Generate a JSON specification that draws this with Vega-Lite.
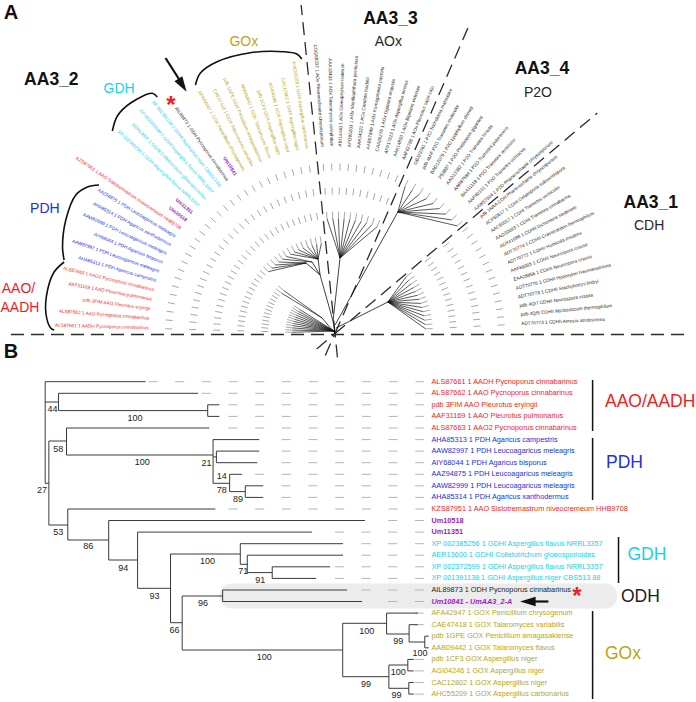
{
"$schema":"https://vega.github.io/schema/vega-lite/v6.json",
"width":696,"height":702,
"autosize":{"type":"fit","contains":"padding"},
"padding":0,
"background":"white",
"config":{"view":{"stroke":null},"font":"Liberation Sans"},
"datasets":{
"leavesB":[
{"name":"ALS87661 1 AADH Pycnoporus cinnabarinus","grp":"AAO","x":431.7,"y":381.7,"d":148,"e":424},
{"name":"ALS87662 1 AAO Pycnoporus cinnabarinus","grp":"AAO","x":431.7,"y":393.3,"d":201.4,"e":424},
{"name":"pdb 3FIM AAO Pleurotus eryingii","grp":"AAO","x":431.7,"y":404.8,"d":228.1,"e":424},
{"name":"AAF31169 1 AAO Pleurotus pulmonarius","grp":"AAO","x":431.7,"y":416.4,"d":228.1,"e":424},
{"name":"ALS87663 1 AAO2 Pycnoporus cinnabarinus","grp":"AAO","x":431.7,"y":428.0,"d":228.1,"e":424},
{"name":"AHA85313 1 PDH Agaricus campestris","grp":"PDH","x":431.7,"y":439.6,"d":281.5,"e":424},
{"name":"AAW82997 1 PDH Leucoagaricus meleagris","grp":"PDH","x":431.7,"y":451.1,"d":281.5,"e":424},
{"name":"AIY68044 1 PDH Agaricus bisporus","grp":"PDH","x":431.7,"y":462.7,"d":281.5,"e":424},
{"name":"AAZ94875 1 PDH Leucoagaricus meleagris","grp":"PDH","x":431.7,"y":474.3,"d":254.8,"e":424},
{"name":"AAW82999 1 PDH Leucoagaricus meleagris","grp":"PDH","x":431.7,"y":485.8,"d":281.5,"e":424},
{"name":"AHA85314 1 PDH Agaricus xanthodermus","grp":"PDH","x":431.7,"y":497.4,"d":281.5,"e":424},
{"name":"KZS87951 1 AAO Sistotremastrum niveocremeum HHB9708","grp":"AAO","x":431.7,"y":509.0,"d":228.1,"e":424},
{"name":"Um10518","grp":"Um","x":431.7,"y":520.5,"d":388.3,"e":424},
{"name":"Um11351","grp":"Um","x":431.7,"y":532.1,"d":334.9,"e":424},
{"name":"XP 002385256 1 GDHI Aspergillus flavus NRRL3357","grp":"GDH","x":431.7,"y":543.7,"d":361.6,"e":424},
{"name":"AER13600 1 GDHI Colletotrichum gloeosporioides","grp":"GDH","x":431.7,"y":555.2,"d":361.6,"e":424},
{"name":"XP 002372599 1 GDHI Aspergillus flavus NRRL3357","grp":"GDH","x":431.7,"y":566.8,"d":334.9,"e":424},
{"name":"XP 001391138 1 GDHI Aspergillus niger CBS513 88","grp":"GDH","x":431.7,"y":578.4,"d":334.9,"e":424},
{"name":"AIL89873 1 ODH Pycnoporus cinnabarinus","grp":"ODH","x":431.7,"y":590.0,"d":361.6,"e":424},
{"name":"Um10841 - UmAA3_2-A","grp":"Um","x":431.7,"y":601.5,"d":388.3,"e":424},
{"name":"AFA42947 1 GOX Penicillium chrysogenum","grp":"GOX","x":431.7,"y":613.1,"d":415,"e":424},
{"name":"CAE47418 1 GOX Talaromyces variabilis","grp":"GOX","x":431.7,"y":624.7,"d":415,"e":424},
{"name":"pdb 1GPE GOX Penicillium amagasakiense","grp":"GOX","x":431.7,"y":636.2,"d":424,"e":424},
{"name":"AAB09442 1 GOX Talaromyces flavus","grp":"GOX","x":431.7,"y":647.8,"d":424,"e":424},
{"name":"pdb 1CF3 GOX Aspergillus niger","grp":"GOX","x":431.7,"y":659.4,"d":415,"e":424},
{"name":"AGI04246 1 GOX Aspergillus niger","grp":"GOX","x":431.7,"y":670.9,"d":415,"e":424},
{"name":"CAC12802 1 GOX Aspergillus niger","grp":"GOX","x":431.7,"y":682.5,"d":415,"e":424},
{"name":"AHC55209 1 GOX Aspergillus carbonarius","grp":"GOX","x":431.7,"y":694.1,"d":415,"e":424}
],
"treeB":[
{"x":44.3,"y":381.7,"x2":145,"y2":381.7},{"x":57.7,"y":393.3,"x2":197.7,"y2":393.3},
{"x":207.3,"y":404.8,"x2":219,"y2":404.8},{"x":207.3,"y":416.4,"x2":219,"y2":416.4},
{"x":65.7,"y":428.0,"x2":209,"y2":428.0},{"x":212.7,"y":439.6,"x2":259,"y2":439.6},
{"x":216,"y":451.1,"x2":259,"y2":451.1},{"x":216,"y":462.7,"x2":257,"y2":462.7},
{"x":229.3,"y":474.3,"x2":241.7,"y2":474.3},{"x":245,"y":485.8,"x2":263,"y2":485.8},
{"x":245,"y":497.4,"x2":263,"y2":497.4},{"x":67,"y":509.0,"x2":215,"y2":509.0},
{"x":108,"y":520.5,"x2":365,"y2":520.5},{"x":137,"y":532.1,"x2":312,"y2":532.1},
{"x":240,"y":543.7,"x2":343,"y2":543.7},{"x":247,"y":555.2,"x2":343,"y2":555.2},
{"x":272,"y":566.8,"x2":330,"y2":566.8},{"x":272,"y":578.4,"x2":316,"y2":578.4},
{"x":222.3,"y":590.0,"x2":347,"y2":590.0},{"x":222.3,"y":601.5,"x2":362,"y2":601.5},
{"x":386.7,"y":613.1,"x2":418,"y2":613.1},{"x":409.3,"y":624.7,"x2":418,"y2":624.7},
{"x":425,"y":636.2,"x2":429,"y2":636.2},{"x":425,"y":647.8,"x2":429,"y2":647.8},
{"x":408,"y":659.4,"x2":414,"y2":659.4},{"x":408,"y":670.9,"x2":414,"y2":670.9},
{"x":409,"y":682.5,"x2":414,"y2":682.5},{"x":409,"y":694.1,"x2":414,"y2":694.1},
{"x":44.3,"y":381.7,"x2":44.3,"y2":483.3},{"x":44.3,"y":402,"x2":57.7,"y2":402},
{"x":57.7,"y":393.3,"x2":57.7,"y2":410.6},{"x":57.7,"y":410.6,"x2":207.3,"y2":410.6},
{"x":207.3,"y":404.8,"x2":207.3,"y2":416.4},{"x":44.3,"y":483.3,"x2":48,"y2":483.3},
{"x":48,"y":441,"x2":48,"y2":525},{"x":48,"y":441,"x2":65.7,"y2":441},
{"x":65.7,"y":428,"x2":65.7,"y2":455},{"x":65.7,"y":455,"x2":212.7,"y2":455},
{"x":212.7,"y":439.6,"x2":212.7,"y2":483.3},{"x":212.7,"y":456.9,"x2":216,"y2":456.9},
{"x":216,"y":451.1,"x2":216,"y2":462.7},{"x":212.7,"y":483.3,"x2":229.3,"y2":483.3},
{"x":229.3,"y":474.3,"x2":229.3,"y2":491.6},{"x":229.3,"y":491.6,"x2":245,"y2":491.6},
{"x":245,"y":485.8,"x2":245,"y2":497.4},{"x":48,"y":525,"x2":67,"y2":525},
{"x":67,"y":509,"x2":67,"y2":540},{"x":67,"y":540,"x2":108,"y2":540},
{"x":108,"y":520.5,"x2":108,"y2":560},{"x":108,"y":560,"x2":137,"y2":560},
{"x":137,"y":532.1,"x2":137,"y2":588.3},{"x":137,"y":588.3,"x2":170,"y2":588.3},
{"x":170,"y":554,"x2":170,"y2":622.7},{"x":170,"y":554,"x2":240,"y2":554},
{"x":240,"y":543.7,"x2":240,"y2":564.3},{"x":240,"y":564.3,"x2":247,"y2":564.3},
{"x":247,"y":555.2,"x2":247,"y2":572.6},{"x":247,"y":572.6,"x2":272,"y2":572.6},
{"x":272,"y":566.8,"x2":272,"y2":578.4},{"x":170,"y":622.7,"x2":181.7,"y2":622.7},
{"x":181.7,"y":596,"x2":181.7,"y2":650},{"x":181.7,"y":596,"x2":222.3,"y2":596},
{"x":222.3,"y":590,"x2":222.3,"y2":601.5},{"x":181.7,"y":650,"x2":342.7,"y2":650},
{"x":342.7,"y":623.3,"x2":342.7,"y2":676.7},{"x":342.7,"y":623.3,"x2":386.7,"y2":623.3},
{"x":386.7,"y":613.1,"x2":386.7,"y2":634},{"x":386.7,"y":634,"x2":409.3,"y2":634},
{"x":409.3,"y":624.7,"x2":409.3,"y2":642},{"x":409.3,"y":642,"x2":425,"y2":642},
{"x":425,"y":636.2,"x2":425,"y2":647.8},{"x":342.7,"y":676.7,"x2":389,"y2":676.7},
{"x":389,"y":665,"x2":389,"y2":688.3},{"x":389,"y":665,"x2":408,"y2":665},
{"x":408,"y":659.4,"x2":408,"y2":670.9},{"x":389,"y":688.3,"x2":409,"y2":688.3},
{"x":409,"y":682.5,"x2":409,"y2":694.1}
],
"bootB":[
{"t":"44","x":51.7,"y":409.3},{"t":"100","x":134.3,"y":417.7},{"t":"58","x":57.5,"y":449},
{"t":"100","x":141.7,"y":461.7},{"t":"21","x":206,"y":462.7},{"t":"14","x":221.3,"y":476},
{"t":"78","x":221.3,"y":490},{"t":"89","x":237.7,"y":499},{"t":"27","x":41,"y":490},
{"t":"53","x":57.5,"y":532.3},{"t":"86","x":87.5,"y":546},{"t":"94","x":122.5,"y":567.7},
{"t":"93","x":154,"y":595.7},{"t":"100","x":207,"y":561},{"t":"71","x":243,"y":571},
{"t":"91","x":260,"y":580},{"t":"96","x":202.5,"y":602.7},{"t":"66","x":174,"y":630},
{"t":"100","x":264,"y":657},{"t":"100","x":366.7,"y":630.7},{"t":"99","x":398.3,"y":641},
{"t":"100","x":420.3,"y":652.7},{"t":"100","x":398.3,"y":671.7},{"t":"99","x":366,"y":684},
{"t":"99","x":396.7,"y":695}
],
"leavesA":[
{"name":"ALS87661 1 AADH Pycnoporus cinnabarinus","grp":"AAO","side":"L","lx":148.1,"ly":328.3,"rot":1.6,"rx1":292.0,"ry1":332.3,"rx2":164.1,"ry2":328.7,"nx":334,"ny":331},
{"name":"ALS87662 1 AAO Pycnoporus cinnabarinus","grp":"AAO","side":"L","lx":148.6,"ly":318.7,"rot":4.55,"rx1":292.1,"ry1":330.1,"rx2":164.5,"ry2":319.9,"nx":334,"ny":331},
{"name":"pdb 3FIM AAO Pleurotus eryingii","grp":"AAO","side":"L","lx":149.6,"ly":309.1,"rot":7.5,"rx1":292.4,"ry1":327.9,"rx2":165.5,"ry2":311.2,"nx":334,"ny":331},
{"name":"AAF31169 1 AAO Pleurotus pulmonarius","grp":"AAO","side":"L","lx":151.1,"ly":299.6,"rot":10.45,"rx1":292.7,"ry1":325.7,"rx2":166.8,"ry2":302.5,"nx":334,"ny":331},
{"name":"ALS87663 1 AAO2 Pycnoporus cinnabarinus","grp":"AAO","side":"L","lx":153.1,"ly":290.2,"rot":13.4,"rx1":293.2,"ry1":323.5,"rx2":168.7,"ry2":293.9,"nx":334,"ny":331},
{"name":"AHA85313 1 PDH Agaricus campestris","grp":"PDH","side":"L","lx":155.6,"ly":280.9,"rot":16.35,"rx1":293.7,"ry1":321.4,"rx2":170.9,"ry2":285.4,"nx":334,"ny":331},
{"name":"AAW82997 1 PDH Leucoagaricus meleagris","grp":"PDH","side":"L","lx":158.5,"ly":271.7,"rot":19.3,"rx1":294.4,"ry1":319.3,"rx2":173.6,"ry2":277.0,"nx":334,"ny":331},
{"name":"AIY68044 1 PDH Agaricus bisporus","grp":"PDH","side":"L","lx":161.9,"ly":262.7,"rot":22.25,"rx1":295.2,"ry1":317.2,"rx2":176.7,"ry2":268.8,"nx":334,"ny":331},
{"name":"AAW82999 1 PDH Leucoagaricus meleagris","grp":"PDH","side":"L","lx":165.8,"ly":253.9,"rot":25.2,"rx1":296.1,"ry1":315.2,"rx2":180.3,"ry2":260.7,"nx":334,"ny":331},
{"name":"AHA85314 1 PDH Agaricus xanthodermus","grp":"PDH","side":"L","lx":170.1,"ly":245.3,"rot":28.15,"rx1":297.1,"ry1":313.2,"rx2":184.2,"ry2":252.8,"nx":334,"ny":331},
{"name":"AAZ94875 1 PDH Leucoagaricus meleagris","grp":"PDH","side":"L","lx":174.9,"ly":236.9,"rot":31.1,"rx1":298.2,"ry1":311.3,"rx2":188.6,"ry2":245.2,"nx":334,"ny":331},
{"name":"KZS87951 1 AAO Sistotremastrum niveocremeum HHB9708","grp":"AAO","side":"L","lx":180.1,"ly":228.8,"rot":34.05,"rx1":299.4,"ry1":309.4,"rx2":193.3,"ry2":237.8,"nx":334,"ny":331},
{"name":"Um10518","grp":"Um","side":"L","lx":185.7,"ly":221.0,"rot":37.0,"rx1":281.5,"ry1":293.2,"rx2":198.4,"ry2":230.6,"nx":322,"ny":318},
{"name":"Um11351","grp":"Um","side":"L","lx":191.6,"ly":213.4,"rot":39.95,"rx1":283.6,"ry1":290.5,"rx2":203.9,"ry2":223.7,"nx":322,"ny":318},
{"name":"XP 002385256 1 GDHI Aspergillus flavus NRRL3357","grp":"GDH","side":"L","lx":198.0,"ly":206.2,"rot":42.9,"rx1":268.3,"ry1":271.6,"rx2":209.7,"ry2":217.1,"nx":306,"ny":263},
{"name":"AER13600 1 GDHI Colletotrichum gloeosporioides","grp":"GDH","side":"L","lx":204.8,"ly":199.3,"rot":45.85,"rx1":271.6,"ry1":268.2,"rx2":215.9,"ry2":210.8,"nx":306,"ny":263},
{"name":"XP 002372599 1 GDHI Aspergillus flavus NRRL3357","grp":"GDH","side":"L","lx":211.8,"ly":192.8,"rot":48.8,"rx1":275.1,"ry1":265.0,"rx2":222.4,"ry2":204.8,"nx":306,"ny":263},
{"name":"XP 001391138 1 GDHI Aspergillus niger CBS513 88","grp":"GDH","side":"L","lx":219.2,"ly":186.6,"rot":51.75,"rx1":278.7,"ry1":262.0,"rx2":229.1,"ry2":199.2,"nx":306,"ny":263},
{"name":"AIL89873 1 ODH Pycnoporus cinnabarinus","grp":"ODH","side":"L","lx":226.9,"ly":180.9,"rot":54.7,"rx1":282.4,"ry1":259.2,"rx2":236.2,"ry2":193.9,"nx":312,"ny":262},
{"name":"Um10841","grp":"Um","side":"L","lx":235.0,"ly":175.5,"rot":57.65,"rx1":286.3,"ry1":256.6,"rx2":243.5,"ry2":189.0,"nx":312,"ny":262},
{"name":"AFA42947 1 GOX Penicillium chrysogenum","grp":"GOX","side":"L","lx":243.2,"ly":170.6,"rot":60.6,"rx1":290.3,"ry1":254.2,"rx2":251.1,"ry2":184.5,"nx":318,"ny":259},
{"name":"CAE47418 1 GOX Talaromyces variabilis","grp":"GOX","side":"L","lx":251.7,"ly":166.1,"rot":63.55,"rx1":294.5,"ry1":252.0,"rx2":258.8,"ry2":180.4,"nx":318,"ny":259},
{"name":"pdb 1GPE GOX Penicillium amagasakiense","grp":"GOX","side":"L","lx":260.4,"ly":162.0,"rot":66.5,"rx1":298.7,"ry1":250.0,"rx2":266.8,"ry2":176.7,"nx":318,"ny":259},
{"name":"AAB09442 1 GOX Talaromyces flavus","grp":"GOX","side":"L","lx":269.4,"ly":158.4,"rot":69.45,"rx1":303.1,"ry1":248.3,"rx2":275.0,"ry2":173.4,"nx":318,"ny":259},
{"name":"pdb 1CF3 GOX Aspergillus niger","grp":"GOX","side":"L","lx":278.5,"ly":155.3,"rot":72.4,"rx1":307.5,"ry1":246.8,"rx2":283.3,"ry2":170.5,"nx":318,"ny":259},
{"name":"AGI04246 1 GOX Aspergillus niger","grp":"GOX","side":"L","lx":287.7,"ly":152.6,"rot":75.35,"rx1":312.0,"ry1":245.5,"rx2":291.8,"ry2":168.1,"nx":318,"ny":259},
{"name":"CAC12802 1 GOX Aspergillus niger","grp":"GOX","side":"L","lx":297.1,"ly":150.4,"rot":78.3,"rx1":316.5,"ry1":244.4,"rx2":300.3,"ry2":166.1,"nx":318,"ny":259},
{"name":"AHC55209 1 GOX Aspergillus carbonarius","grp":"GOX","side":"L","lx":306.6,"ly":148.7,"rot":81.25,"rx1":321.2,"ry1":243.6,"rx2":309.0,"ry2":164.5,"nx":318,"ny":259},
{"name":"CDG68237 1 AOx Phanerochaete chrysosporium","grp":"AOx","side":"L","lx":321.9,"ly":146.9,"rot":86,"rx1":327.0,"ry1":218.8,"rx2":323.1,"ry2":162.9,"nx":340,"ny":258},
{"name":"AAA18403 1 AOx Talaromyces cerephilum","grp":"AOx","side":"L","lx":331.2,"ly":146.5,"rot":88.85,"rx1":332.7,"ry1":218.5,"rx2":331.6,"ry2":162.5,"nx":340,"ny":258},
{"name":"ABI14440 1 AOx Gloeophyllum trabeum","grp":"AOx","side":"R","lx":340.6,"ly":146.6,"rot":-88.3,"rx1":338.4,"ry1":218.5,"rx2":340.1,"ry2":162.6,"nx":340,"ny":258},
{"name":"AFO95203 1 AOx Moniliophthora perniciosa","grp":"AOx","side":"R","lx":349.8,"ly":147.1,"rot":-85.45,"rx1":344.1,"ry1":218.9,"rx2":348.6,"ry2":163.0,"nx":340,"ny":258},
{"name":"AAA34321 1 AOx Candida boidinii","grp":"AOx","side":"R","lx":359.1,"ly":148.0,"rot":-82.6,"rx1":349.8,"ry1":219.5,"rx2":357.0,"ry2":163.9,"nx":340,"ny":258},
{"name":"AAB57849 1 AOx Komagataella pastoris","grp":"AOx","side":"R","lx":368.3,"ly":149.5,"rot":-79.75,"rx1":355.5,"ry1":220.3,"rx2":365.4,"ry2":165.2,"nx":340,"ny":258},
{"name":"CAA26278 1 AOx Ogataea angusta","grp":"AOx","side":"R","lx":377.4,"ly":151.4,"rot":-76.9,"rx1":361.1,"ry1":221.5,"rx2":373.8,"ry2":166.9,"nx":340,"ny":258},
{"name":"AFP17623 1 AOx Aspergillus terreus","grp":"AOx","side":"R","lx":386.4,"ly":153.7,"rot":-74.05,"rx1":366.6,"ry1":222.9,"rx2":382.0,"ry2":169.1,"nx":340,"ny":258},
{"name":"AAK14850 1 AOx Bipolaris victoriae","grp":"AOx","side":"R","lx":395.3,"ly":156.5,"rot":-71.2,"rx1":372.1,"ry1":224.6,"rx2":390.1,"ry2":171.6,"nx":340,"ny":258},
{"name":"AAF82788 1 AOx Pleurotus sajor-caju","grp":"AOx","side":"R","lx":404.0,"ly":159.7,"rot":-68.35,"rx1":377.4,"ry1":226.6,"rx2":398.1,"ry2":174.6,"nx":340,"ny":258},
{"name":"GBJ23761 1 P2O Tricholoma matsutake","grp":"P2O","side":"R","lx":415.5,"ly":164.7,"rot":-64.5,"rx1":405.2,"ry1":186.4,"rx2":408.6,"ry2":179.2,"nx":398,"ny":212},
{"name":"pdb 4MIF P2O Trametes multicolor","grp":"P2O","side":"R","lx":423.9,"ly":169.0,"rot":-61.6,"rx1":412.5,"ry1":190.1,"rx2":416.3,"ry2":183.1,"nx":398,"ny":212},
{"name":"BAD12079 1 P2O Lyophyllum shimeji","grp":"P2O","side":"R","lx":432.1,"ly":173.7,"rot":-58.7,"rx1":419.7,"ry1":194.2,"rx2":423.8,"ry2":187.4,"nx":398,"ny":212},
{"name":"P59887 1 P2O Phlebiopsis gigantea","grp":"P2O","side":"R","lx":440.1,"ly":178.8,"rot":-55.8,"rx1":426.6,"ry1":198.7,"rx2":431.1,"ry2":192.1,"nx":398,"ny":212},
{"name":"AAO13382 1 P2O Trametes hirsuta","grp":"P2O","side":"R","lx":447.8,"ly":184.3,"rot":-52.9,"rx1":433.3,"ry1":203.5,"rx2":438.1,"ry2":197.1,"nx":398,"ny":212},
{"name":"AAR87584 1 P2O Trametes pubescens","grp":"P2O","side":"R","lx":455.2,"ly":190.3,"rot":-50,"rx1":439.8,"ry1":208.6,"rx2":444.9,"ry2":202.5,"nx":398,"ny":212},
{"name":"BAA11119 1 P2O Trametes versicolor","grp":"P2O","side":"R","lx":462.3,"ly":196.5,"rot":-47.1,"rx1":446.0,"ry1":214.1,"rx2":451.4,"ry2":208.2,"nx":398,"ny":212},
{"name":"AAP40332 1 P2O Trametes ochracea","grp":"P2O","side":"R","lx":469.1,"ly":203.1,"rot":-44.2,"rx1":451.9,"ry1":219.9,"rx2":457.6,"ry2":214.3,"nx":398,"ny":212},
{"name":"AAW57304 1 P2O Phanerochaete chrysosporium","grp":"P2O","side":"R","lx":475.5,"ly":210.1,"rot":-41.3,"rx1":457.5,"ry1":225.9,"rx2":463.5,"ry2":220.6,"nx":398,"ny":212},
{"name":"pdb 1NAA CDH Phanerochaete chrysosporium","grp":"CDH","side":"R","lx":481.3,"ly":217.1,"rot":-38.5,"rx1":406.2,"ry1":276.9,"rx2":468.8,"ry2":227.1,"nx":388,"ny":302},
{"name":"ACF60617 1 CDHI Gelatoporia subvermispora","grp":"CDH","side":"R","lx":486.8,"ly":224.2,"rot":-35.76,"rx1":408.8,"ry1":280.3,"rx2":473.8,"ry2":233.6,"nx":388,"ny":302},
{"name":"AAC50017 1 CDHI Trametes versicolor","grp":"CDH","side":"R","lx":491.8,"ly":231.6,"rot":-33.02,"rx1":411.3,"ry1":283.9,"rx2":478.4,"ry2":240.3,"nx":388,"ny":302},
{"name":"AAO32063 1 CDHI Trametes cinnabarina","grp":"CDH","side":"R","lx":496.5,"ly":239.2,"rot":-30.29,"rx1":413.6,"ry1":287.6,"rx2":482.7,"ry2":247.2,"nx":388,"ny":302},
{"name":"ADX41688 1 CDHII Dichomera saubinetii","grp":"CDH","side":"R","lx":500.8,"ly":247.0,"rot":-27.55,"rx1":415.7,"ry1":291.4,"rx2":486.6,"ry2":254.4,"nx":388,"ny":302},
{"name":"ADT70774 1 CDHII Crassicarpon thermophilum","grp":"CDH","side":"R","lx":504.7,"ly":255.0,"rot":-24.81,"rx1":417.6,"ry1":295.3,"rx2":490.2,"ry2":261.7,"nx":388,"ny":302},
{"name":"ADT70772 1 CDHII Humicola insolens","grp":"CDH","side":"R","lx":508.3,"ly":263.2,"rot":-22.07,"rx1":419.3,"ry1":299.3,"rx2":493.5,"ry2":269.2,"nx":388,"ny":302},
{"name":"AAF69005 1 CDHII Neurospora crassa","grp":"CDH","side":"R","lx":511.5,"ly":271.6,"rot":-19.33,"rx1":420.9,"ry1":303.4,"rx2":496.4,"ry2":276.9,"nx":388,"ny":302},
{"name":"EAA28856 1 CDHII Neurospora crassa","grp":"CDH","side":"R","lx":514.2,"ly":280.1,"rot":-16.6,"rx1":422.2,"ry1":307.5,"rx2":498.9,"ry2":284.6,"nx":388,"ny":302},
{"name":"ADT70776 1 CDHII Hypoxylon haematostroma","grp":"CDH","side":"R","lx":516.6,"ly":288.7,"rot":-13.86,"rx1":423.4,"ry1":311.7,"rx2":501.0,"ry2":292.5,"nx":388,"ny":302},
{"name":"ADT70778 1 CDHII Stachybotrys bisbyi","grp":"CDH","side":"R","lx":518.5,"ly":297.4,"rot":-11.12,"rx1":424.3,"ry1":315.9,"rx2":502.8,"ry2":300.5,"nx":388,"ny":302},
{"name":"pdb 4QI7 CDHII Neurospora crassa","grp":"CDH","side":"R","lx":520.0,"ly":306.3,"rot":-8.38,"rx1":425.0,"ry1":320.2,"rx2":504.2,"ry2":308.6,"nx":388,"ny":302},
{"name":"pdb 4QI5 CDHII Myriococcum thermophilum","grp":"CDH","side":"R","lx":521.1,"ly":315.1,"rot":-5.64,"rx1":425.6,"ry1":324.6,"rx2":505.2,"ry2":316.7,"nx":388,"ny":302},
{"name":"ADT70773 1 CDHII Amesia atrobrunnea","grp":"CDH","side":"R","lx":521.8,"ly":324.0,"rot":-2.9,"rx1":425.9,"ry1":328.9,"rx2":505.8,"ry2":324.8,"nx":388,"ny":302}
],
"treeA":[
{"x":335,"y":333.5,"x2":333,"y2":321},{"x":333,"y":321,"x2":320,"y2":275},
{"x":320,"y":275,"x2":306,"y2":263},{"x":320,"y":275,"x2":312,"y2":262},{"x":320,"y":275,"x2":318,"y2":259},
{"x":333,"y":321,"x2":340,"y2":258},{"x":335,"y":325,"x2":398,"y2":212},
{"x":336,"y":328,"x2":388,"y2":302},{"x":335,"y":333.5,"x2":322,"y2":318},
{"x":335,"y":333.5,"x2":334,"y2":331}
],
"sepA":[
{"x":10,"y":334.5,"x2":690,"y2":334.5},
{"x":335,"y":333.5,"x2":301,"y2":5},{"x":337.4,"y":357.4,"x2":335,"y2":333.5},
{"x":335,"y":333.5,"x2":470,"y2":24},{"x":325.2,"y":355.4,"x2":335,"y2":333.5},
{"x":335,"y":333.5,"x2":598,"y2":113},{"x":316.6,"y":348.9,"x2":335,"y2":333.5}
],
"brackets":[
{"id":"GOx","k":1,"x":195,"y":85},{"id":"GOx","k":2,"x":200,"y":73},{"id":"GOx","k":3,"x":216.7,"y":61.7},{"id":"GOx","k":4,"x":250,"y":52.7},{"id":"GOx","k":5,"x":283.3,"y":51.7},{"id":"GOx","k":6,"x":296.7,"y":54},{"id":"GOx","k":7,"x":301.7,"y":59},
{"id":"GDH","k":1,"x":111.7,"y":131},{"id":"GDH","k":2,"x":116.7,"y":116},{"id":"GDH","k":3,"x":130,"y":103},{"id":"GDH","k":4,"x":151.7,"y":93.3},{"id":"GDH","k":5,"x":156.7,"y":97},
{"id":"PDH","k":1,"x":98.3,"y":185},{"id":"PDH","k":2,"x":86.7,"y":187},{"id":"PDH","k":3,"x":75,"y":195},{"id":"PDH","k":4,"x":65,"y":220},{"id":"PDH","k":5,"x":61.7,"y":247},{"id":"PDH","k":6,"x":63.3,"y":260},
{"id":"AAO","k":1,"x":63.3,"y":262},{"id":"AAO","k":2,"x":53.3,"y":272},{"id":"AAO","k":3,"x":46.7,"y":290},{"id":"AAO","k":4,"x":45,"y":313},{"id":"AAO","k":5,"x":50,"y":328.3},{"id":"AAO","k":6,"x":53.3,"y":330}
],
"cladeA":[
{"t":"GDH","grp":"GDH","x":118.5,"y":89},{"t":"GOx","grp":"GOX","x":243.5,"y":41.7},
{"t":"PDH","grp":"PDH","x":44,"y":209},{"t":"AAO/","grp":"AAO","x":17.5,"y":289},
{"t":"AADH","grp":"AAO","x":19,"y":308},{"t":"AOx","grp":"AOx","x":388.5,"y":42},
{"t":"P2O","grp":"P2O","x":538.5,"y":93},{"t":"CDH","grp":"CDH","x":650,"y":226}
],
"headA":[
{"t":"AA3_2","x":50.5,"y":80},{"t":"AA3_3","x":390.5,"y":19},{"t":"AA3_4","x":542.5,"y":69},{"t":"AA3_1","x":651.7,"y":203}
],
"cladeB":[
{"t":"AAO/AADH","grp":"AAO","x":605.7,"y":401.7},{"t":"PDH","grp":"PDH","x":606.7,"y":463.3},
{"t":"GDH","grp":"GDH","x":628.3,"y":554.7},{"t":"ODH","grp":"ODH","x":621.7,"y":596.7},
{"t":"GOx","grp":"GOX","x":605.7,"y":654.3}
],
"barsB":[
{"x":593.3,"y":380,"x2":593.3,"y2":431},{"x":593.3,"y":438,"x2":593.3,"y2":500},
{"x":619.3,"y":537,"x2":619.3,"y2":583},{"x":593.3,"y":611,"x2":593.3,"y2":699}
],
"boxB":[{"x":219,"y":583.5,"x2":618,"y2":608.5}],
"shafts":[{"x":165,"y":58,"x2":181,"y2":83},{"x":549,"y":601.5,"x2":534,"y2":601.5}],
"heads":[{"x":182,"y":85.3,"a":-32},{"x":528.4,"y":601.5,"a":90}],
"stars":[{"x":170.3,"y":112.6},{"x":577.5,"y":603.8}],
"panels":[{"t":"A","x":10,"y":13},{"t":"B","x":10,"y":352}]
},
"layer":[
{"data":{"name":"boxB"},"mark":{"type":"rect","color":"#ececec","cornerRadius":12},
 "encoding":{"x":{"field":"x","type":"quantitative","scale":{"domain":[0,696],"nice":false,"zero":false},"axis":null},
 "x2":{"field":"x2"},
 "y":{"field":"y","type":"quantitative","scale":{"domain":[0,702],"nice":false,"zero":false,"reverse":true},"axis":null},
 "y2":{"field":"y2"}}},
{"data":{"name":"leavesB"},"mark":{"type":"rule","color":"#b5b5b5","strokeWidth":1,"strokeDash":[9,17.7]},
 "encoding":{"x":{"field":"d","type":"quantitative"},"x2":{"field":"e"},"y":{"field":"y","type":"quantitative"}}},
{"data":{"name":"leavesA"},"mark":{"type":"rule","color":"#a8a8a8","strokeWidth":1,"strokeDash":[7,17]},
 "encoding":{"x":{"field":"rx1","type":"quantitative"},"y":{"field":"ry1","type":"quantitative"},"x2":{"field":"rx2"},"y2":{"field":"ry2"}}},
{"data":{"name":"sepA"},"mark":{"type":"rule","color":"#2b2b2b","strokeWidth":1.3,"strokeDash":[13,7]},
 "encoding":{"x":{"field":"x","type":"quantitative"},"y":{"field":"y","type":"quantitative"},"x2":{"field":"x2"},"y2":{"field":"y2"}}},
{"data":{"name":"treeB"},"mark":{"type":"rule","color":"#3a3a3a","strokeWidth":1},
 "encoding":{"x":{"field":"x","type":"quantitative"},"y":{"field":"y","type":"quantitative"},"x2":{"field":"x2"},"y2":{"field":"y2"}}},
{"data":{"name":"treeA"},"mark":{"type":"rule","color":"#111111","strokeWidth":0.8},
 "encoding":{"x":{"field":"x","type":"quantitative"},"y":{"field":"y","type":"quantitative"},"x2":{"field":"x2"},"y2":{"field":"y2"}}},
{"data":{"name":"leavesA"},"mark":{"type":"rule","color":"#111111","strokeWidth":0.7},
 "encoding":{"x":{"field":"nx","type":"quantitative"},"y":{"field":"ny","type":"quantitative"},"x2":{"field":"rx1"},"y2":{"field":"ry1"}}},
{"data":{"name":"barsB"},"mark":{"type":"rule","color":"#111111","strokeWidth":1.5},
 "encoding":{"x":{"field":"x","type":"quantitative"},"y":{"field":"y","type":"quantitative"},"x2":{"field":"x2"},"y2":{"field":"y2"}}},
{"data":{"name":"brackets"},"mark":{"type":"line","color":"#111111","strokeWidth":1.6,"interpolate":"catmull-rom"},
 "encoding":{"x":{"field":"x","type":"quantitative"},"y":{"field":"y","type":"quantitative"},"detail":{"field":"id"},"order":{"field":"k","type":"quantitative"}}},
{"data":{"name":"shafts"},"mark":{"type":"rule","color":"#111111","strokeWidth":2.2},
 "encoding":{"x":{"field":"x","type":"quantitative"},"y":{"field":"y","type":"quantitative"},"x2":{"field":"x2"},"y2":{"field":"y2"}}},
{"data":{"name":"heads"},"mark":{"type":"point","shape":"M0,1L-0.6,-1L0.6,-1Z","filled":true,"color":"#111111","opacity":1,"size":240},
 "encoding":{"x":{"field":"x","type":"quantitative"},"y":{"field":"y","type":"quantitative"},"angle":{"field":"a","type":"quantitative","scale":null}}},
{"data":{"name":"leavesB"},"transform":[{"filter":"datum.grp != 'Um'"}],
 "mark":{"type":"text","align":"left","baseline":"middle","fontSize":7.3},
 "encoding":{"x":{"field":"x","type":"quantitative"},"y":{"field":"y","type":"quantitative"},"text":{"field":"name"},
 "color":{"field":"grp","type":"nominal","scale":{"domain":["AAO","PDH","Um","GDH","ODH","GOX","AOx","P2O","CDH"],"range":["#f21d1d","#2030de","#9d22c0","#14d2ea","#1e1e1e","#b9a514","#262626","#262626","#262626"]},"legend":null}}},
{"data":{"name":"leavesB"},"transform":[{"filter":"datum.grp == 'Um' && indexof(datum.name,' - ') < 0"}],
 "mark":{"type":"text","align":"left","baseline":"middle","fontSize":7.3,"fontWeight":"bold"},
 "encoding":{"x":{"field":"x","type":"quantitative"},"y":{"field":"y","type":"quantitative"},"text":{"field":"name"},
 "color":{"field":"grp","type":"nominal","legend":null}}},
{"data":{"name":"leavesB"},"transform":[{"filter":"datum.grp == 'Um' && indexof(datum.name,' - ') >= 0"}],
 "mark":{"type":"text","align":"left","baseline":"middle","fontSize":7.3,"fontWeight":"bold","fontStyle":"italic"},
 "encoding":{"x":{"field":"x","type":"quantitative"},"y":{"field":"y","type":"quantitative"},"text":{"field":"name"},
 "color":{"field":"grp","type":"nominal","legend":null}}},
{"data":{"name":"leavesA"},"transform":[{"filter":"datum.side == 'L' && datum.grp != 'Um'"}],
 "mark":{"type":"text","align":"right","baseline":"middle","fontSize":4.7},
 "encoding":{"x":{"field":"lx","type":"quantitative"},"y":{"field":"ly","type":"quantitative"},"text":{"field":"name"},
 "angle":{"field":"rot","type":"quantitative","scale":null},"color":{"field":"grp","type":"nominal","legend":null}}},
{"data":{"name":"leavesA"},"transform":[{"filter":"datum.side == 'L' && datum.grp == 'Um'"}],
 "mark":{"type":"text","align":"right","baseline":"middle","fontSize":4.9,"fontWeight":"bold"},
 "encoding":{"x":{"field":"lx","type":"quantitative"},"y":{"field":"ly","type":"quantitative"},"text":{"field":"name"},
 "angle":{"field":"rot","type":"quantitative","scale":null},"color":{"field":"grp","type":"nominal","legend":null}}},
{"data":{"name":"leavesA"},"transform":[{"filter":"datum.side == 'R'"}],
 "mark":{"type":"text","align":"left","baseline":"middle","fontSize":4.7},
 "encoding":{"x":{"field":"lx","type":"quantitative"},"y":{"field":"ly","type":"quantitative"},"text":{"field":"name"},
 "angle":{"field":"rot","type":"quantitative","scale":null},"color":{"field":"grp","type":"nominal","legend":null}}},
{"data":{"name":"bootB"},"mark":{"type":"text","align":"center","baseline":"middle","fontSize":9,"color":"#222222"},
 "encoding":{"x":{"field":"x","type":"quantitative"},"y":{"field":"y","type":"quantitative"},"text":{"field":"t"}}},
{"data":{"name":"cladeB"},"mark":{"type":"text","align":"left","baseline":"middle","fontSize":17.5},
 "encoding":{"x":{"field":"x","type":"quantitative"},"y":{"field":"y","type":"quantitative"},"text":{"field":"t"},"color":{"field":"grp","type":"nominal","legend":null}}},
{"data":{"name":"cladeA"},"mark":{"type":"text","align":"center","baseline":"middle","fontSize":14},
 "encoding":{"x":{"field":"x","type":"quantitative"},"y":{"field":"y","type":"quantitative"},"text":{"field":"t"},"color":{"field":"grp","type":"nominal","legend":null}}},
{"data":{"name":"headA"},"mark":{"type":"text","align":"center","baseline":"middle","fontSize":17.5,"fontWeight":"bold","color":"#111111"},
 "encoding":{"x":{"field":"x","type":"quantitative"},"y":{"field":"y","type":"quantitative"},"text":{"field":"t"}}},
{"data":{"name":"stars"},"mark":{"type":"text","align":"center","baseline":"alphabetic","fontSize":24,"fontWeight":"bold","color":"#f21d1d","text":"*"},
 "encoding":{"x":{"field":"x","type":"quantitative"},"y":{"field":"y","type":"quantitative"}}},
{"data":{"name":"panels"},"mark":{"type":"text","align":"center","baseline":"middle","fontSize":20,"fontWeight":"bold","color":"#111111"},
 "encoding":{"x":{"field":"x","type":"quantitative"},"y":{"field":"y","type":"quantitative"},"text":{"field":"t"}}}
]
}
